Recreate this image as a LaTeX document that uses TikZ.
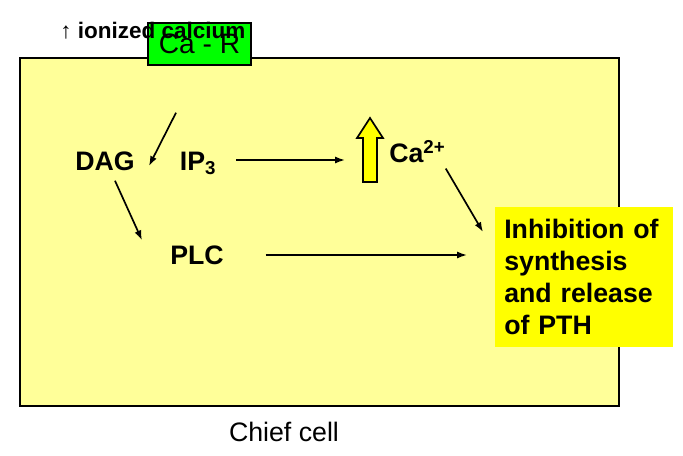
\documentclass[tikz,border=0pt]{standalone}
\usepackage{fontspec}
\setmainfont{Liberation Sans}
\usetikzlibrary{positioning,arrows.meta,calc}
\definecolor{cellyellow}{RGB}{255,255,153}
\definecolor{boxgreen}{RGB}{0,255,0}
\definecolor{boxyellow}{RGB}{255,255,0}

\begin{document}
\begin{tikzpicture}[
    x=0.025cm, y=-0.025cm,
    lbl/.style={inner sep=0pt, font=\fontsize{19}{23}\selectfont\bfseries},
    arr/.style={-{Latex[length=7pt,width=5pt]}, line width=1.2pt},
    cellbox/.style={draw, line width=1.3pt, fill=cellyellow},
    receptor/.style={draw, line width=1pt, fill=boxgreen},
    inhibbox/.style={fill=boxyellow}
]
    \useasboundingbox (0,0) rectangle (683,455);

    % Chief cell
    \node[cellbox, anchor=north west, minimum width=14.975cm, minimum height=8.7cm] (cell) at (19,57) {};
    \node[inner sep=0pt, font=\fontsize{19}{23}\selectfont] (chief) at (284,432) {Chief cell};

    % Receptor and stimulus
    \node[receptor, minimum width=2.575cm, minimum height=1.05cm, font=\fontsize{20}{24}\selectfont] (car) at (199.5,44) {Ca - R};
    \node[anchor=base west, inner sep=0pt, font=\fontsize{16}{19}\selectfont] (ion) at (60,38) {↑ \textbf{ionized calcium}};

    % Second messengers
    \node[lbl] (dag) at (105,161) {DAG};
    \node[lbl, anchor=base] (ip) at (198,170) {IP\textsubscript{3}};
    \node[lbl] (plc) at (197,255) {PLC};
    \node[lbl, anchor=base west] (ca) at (389,162) {Ca\textsuperscript{2+}};

    % Rise of calcium
    \draw[line width=1.2pt, fill=boxyellow] (363,182) -- (363,138) -- (357,138) -- (370,118)
        -- (383,138) -- (377,138) -- (377,182) -- cycle;
    \coordinate (caup) at (345,160);

    % Effect
    \node[inhibbox, anchor=north west, minimum width=4.45cm, minimum height=3.5cm,
        text width=4cm, inner xsep=0.225cm, align=left,
        font=\fontsize{19}{22.8}\selectfont\bfseries] (inhib) at (495,207)
        {Inhibition of\\ synthesis\\ and release\\ of PTH};

    % Arrows
    \draw[arr] ($(car.south)+(-23.5,47)$) -- ($(dag.east)+(14,5)$);
    \draw[arr] ($(dag.south)+(10,10)$) -- ($(plc.north west)+(-28,-5)$);
    \draw[arr] ($(ip.base east)+(20,-10)$) -- (caup);
    \draw[arr] ($(ca.south east)+(0,6)$) -- ($(inhib.north west)+(-12,25)$);
    \draw[arr, shorten <=1.04cm, shorten >=0.7cm] (plc.east) -- (plc.east -| inhib.west);
\end{tikzpicture}
\end{document}
